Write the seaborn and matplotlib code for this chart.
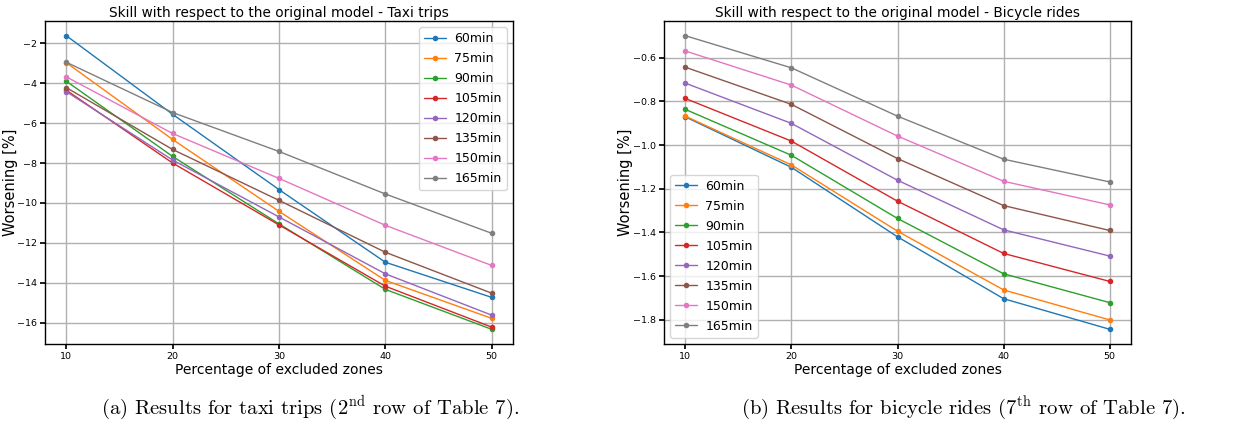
import pandas as pd
import seaborn as sns
import matplotlib.pyplot as plt

pct = [10, 20, 30, 40, 50]
horizons = ["60min", "75min", "90min", "105min", "120min", "135min", "150min", "165min"]

# Taxi trips (2nd row of Table 7)
taxi_60 = [-1.62, -5.56, -9.33, -12.97, -14.73]
taxi_75 = [-2.97, -6.82, -10.42, -13.88, -15.78]
taxi_90 = [-3.90, -7.67, -11.05, -14.33, -16.33]
taxi_105 = [-4.35, -8.00, -11.10, -14.17, -16.22]
taxi_120 = [-4.42, -7.85, -10.70, -13.55, -15.62]
taxi_135 = [-4.22, -7.32, -9.87, -12.47, -14.52]
taxi_150 = [-3.68, -6.52, -8.77, -11.12, -13.13]
taxi_165 = [-2.95, -5.47, -7.42, -9.55, -11.52]

# Bicycle rides (7th row of Table 7)
bike_60 = [-0.871, -1.102, -1.420, -1.703, -1.843]
bike_75 = [-0.868, -1.091, -1.394, -1.663, -1.800]
bike_90 = [-0.837, -1.047, -1.336, -1.589, -1.721]
bike_105 = [-0.787, -0.982, -1.257, -1.496, -1.624]
bike_120 = [-0.717, -0.901, -1.161, -1.388, -1.508]
bike_135 = [-0.644, -0.814, -1.062, -1.277, -1.391]
bike_150 = [-0.570, -0.726, -0.959, -1.166, -1.274]
bike_165 = [-0.500, -0.647, -0.868, -1.065, -1.169]

taxi = [taxi_60, taxi_75, taxi_90, taxi_105, taxi_120, taxi_135, taxi_150, taxi_165]
bike = [bike_60, bike_75, bike_90, bike_105, bike_120, bike_135, bike_150, bike_165]


def to_long(series):
    rows = []
    for h, vals in zip(horizons, series):
        for p, v in zip(pct, vals):
            rows.append({"pct": p, "worsening": v, "horizon": h})
    return pd.DataFrame(rows)


sns.set_theme(style="whitegrid", rc={
    "axes.edgecolor": "black",
    "axes.linewidth": 1.0,
    "grid.color": "#b0b0b0",
    "grid.linewidth": 1.0,
    "xtick.bottom": True,
    "ytick.left": True,
    "xtick.major.size": 3.5,
    "ytick.major.size": 3.5,
    "xtick.color": "black",
    "ytick.color": "black",
    "text.color": "black",
    "axes.labelcolor": "black",
    "mathtext.fontset": "cm",
})
plt.rcParams["font.family"] = ["DejaVu Sans"]

fig = plt.figure(figsize=(12.34, 4.29), dpi=100)
W, H = 1234, 429
ax1 = fig.add_axes([45 / W, (H - 344) / H, 468 / W, 323 / H])
ax2 = fig.add_axes([664 / W, (H - 344) / H, 467 / W, 323 / H])

palette = sns.color_palette("tab10", 8)
panels = [
    (ax1, taxi, "Skill with respect to the original model - Taxi trips", "upper right", -27),
    (ax2, bike, "Skill with respect to the original model - Bicycle rides", "lower left", -31),
]

for ax, series, title, loc, ylab_px in panels:
    sns.lineplot(
        data=to_long(series), x="pct", y="worsening", hue="horizon",
        hue_order=horizons, palette=palette, marker="o", markersize=4,
        markeredgewidth=0, linewidth=1, ax=ax,
    )
    ax.set_title(title, fontsize=9.8, pad=3)
    ax.set_xlabel("Percentage of excluded zones", fontsize=10, labelpad=2)
    ax.set_ylabel("Worsening [%]", fontsize=10.5)
    ax.yaxis.set_label_coords(ylab_px / 468, 0.5)
    ax.set_xticks(pct)
    ax.tick_params(labelsize=6.8, pad=2)
    ax.grid(True)
    handles, labels = ax.get_legend_handles_labels()
    ax.legend(handles, labels, loc=loc, fontsize=9, labelspacing=0.56,
              handlelength=1.7, handletextpad=0.7, framealpha=0.8,
              edgecolor="#cccccc", fancybox=True)

fig.text(310 / W, 1 - 408 / H, r"(a) Results for taxi trips (2$^{\mathrm{nd}}$ row of Table 7).",
         ha="center", va="center", fontsize=14.9, family="cmr10")
fig.text(963 / W, 1 - 408 / H, r"(b) Results for bicycle rides (7$^{\mathrm{th}}$ row of Table 7).",
         ha="center", va="center", fontsize=14.9, family="cmr10")

fig.savefig("out.png", dpi=100)
